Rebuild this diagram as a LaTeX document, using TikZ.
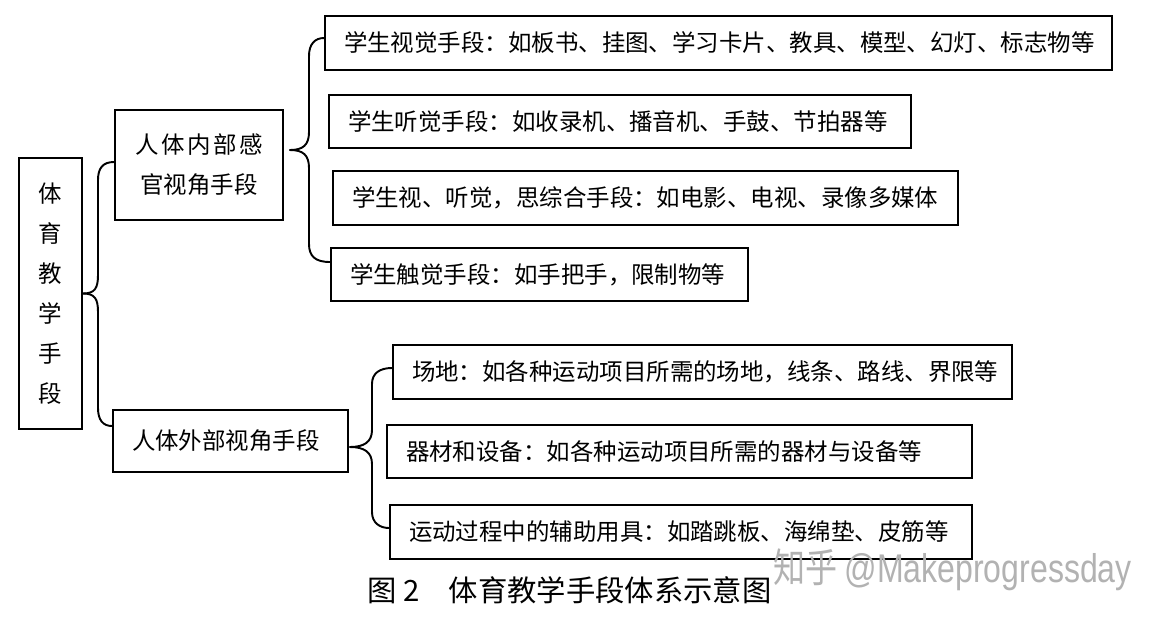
\documentclass[tikz,border=0pt]{standalone}
\usepackage{fontspec}
\setmainfont{Noto Sans CJK SC}
\newfontfamily\wmfont{Liberation Sans}
\newfontfamily\wmcjk{Noto Sans CJK SC}
\definecolor{wmgray}{RGB}{178,178,178}
\begin{document}
\begin{tikzpicture}[x=0.02cm,y=-0.02cm,
  every node/.style={font=\fontsize{13.35pt}{16pt}\selectfont},
  bx/.style={draw, line width=1.2pt, inner xsep=0.38cm, inner ysep=0pt, align=left, minimum height=1.07cm, text width=#1},
  tallbox/.style={draw, line width=1.2pt, align=center, font=\fontsize{13.35pt}{22.7pt}\selectfont},
  brace/.style={line width=1.1pt, line cap=round, line join=round}]
\useasboundingbox (0,0) rectangle (1161,620);

% main box
\node[tallbox, minimum width=1.26cm, minimum height=5.42cm] (main) at (50.5,293.5) {体\\育\\教\\学\\手\\段};

% second level
\node[tallbox, minimum width=3.36cm, minimum height=2.2cm] (A) at (199,165) {人\hspace{1.5pt}体\hspace{1.5pt}内\hspace{1.5pt}部\hspace{1.5pt}感\\官视角手段};
\node[bx=3.94cm, minimum height=1.24cm] (B) at (230.5,441) {人体外部视角手段};

% third level (A)
\node[bx=14.98cm] (a1) at (718.5,43) {学生视觉手段：如板书、挂图、学习卡片、教具、模型、幻灯、标志物等};
\node[bx=10.88cm] (a2) at (620,121.5) {学生听觉手段：如收录机、播音机、手鼓、节拍器等};
\node[bx=11.74cm] (a3) at (645.5,198) {学生视、听觉，思综合手段：如电影、电视、录像多媒体};
\node[bx=7.58cm] (a4) at (539.5,274.5) {学生触觉手段：如手把手，限制物等};

% third level (B)
\node[bx=11.62cm] (b1) at (702.5,372) {场地：如各种运动项目所需的场地，线条、路线、界限等};
\node[bx=10.94cm] (b2) at (679.5,451.5) {器材和设备：如各种运动项目所需的器材与设备等};
\node[bx=10.88cm] (b3) at (681,532) {运动过程中的辅助用具：如踏跳板、海绵垫、皮筋等};

% brace tips
\coordinate (atip) at (290,150);
\coordinate (btip) at (350,447);

% main brace
\draw[brace] (main.east) .. controls (95,293.5) and (98,288) .. (98,275) -- (98,180)
  .. controls (98,168) and (103,162) .. (A.west |- 0,162);
\draw[brace] (main.east) .. controls (95,293.5) and (98,299) .. (98,312) -- (98,408)
  .. controls (98,420) and (103,426) .. (B.west |- 0,426);

% brace A
\draw[brace] (atip) .. controls (303,150) and (309,145) .. (309,132) -- (309,56)
  .. controls (309,44) and (315,38) .. (a1.west |- 0,38);
\draw[brace] (atip) .. controls (303,150) and (309,155) .. (309,168) -- (309,244)
  .. controls (309,256) and (315,262) .. (a4.west |- 0,262);

% brace B
\draw[brace] (btip) .. controls (364,447) and (372,442) .. (372,430) -- (372,384)
  .. controls (372,373) and (380,368) .. (b1.west |- 0,368);
\draw[brace] (btip) .. controls (364,447) and (372,452) .. (372,464) -- (372,512)
  .. controls (372,523) and (380,528) .. (b3.west |- 0,528);

% watermark
\node[anchor=base west, text=wmgray, xscale=0.8, transform shape, font=\fontsize{22.8pt}{26pt}\selectfont, inner sep=0pt] (wm) at (773,582) {\wmcjk 知乎 \wmfont @Makeprogressday};

% caption
\node[anchor=west, inner sep=0pt, font=\fontsize{16.7pt}{20pt}\selectfont] (cap) at (367,590) {图 2　体育教学手段体系示意图};
\end{tikzpicture}
\end{document}
